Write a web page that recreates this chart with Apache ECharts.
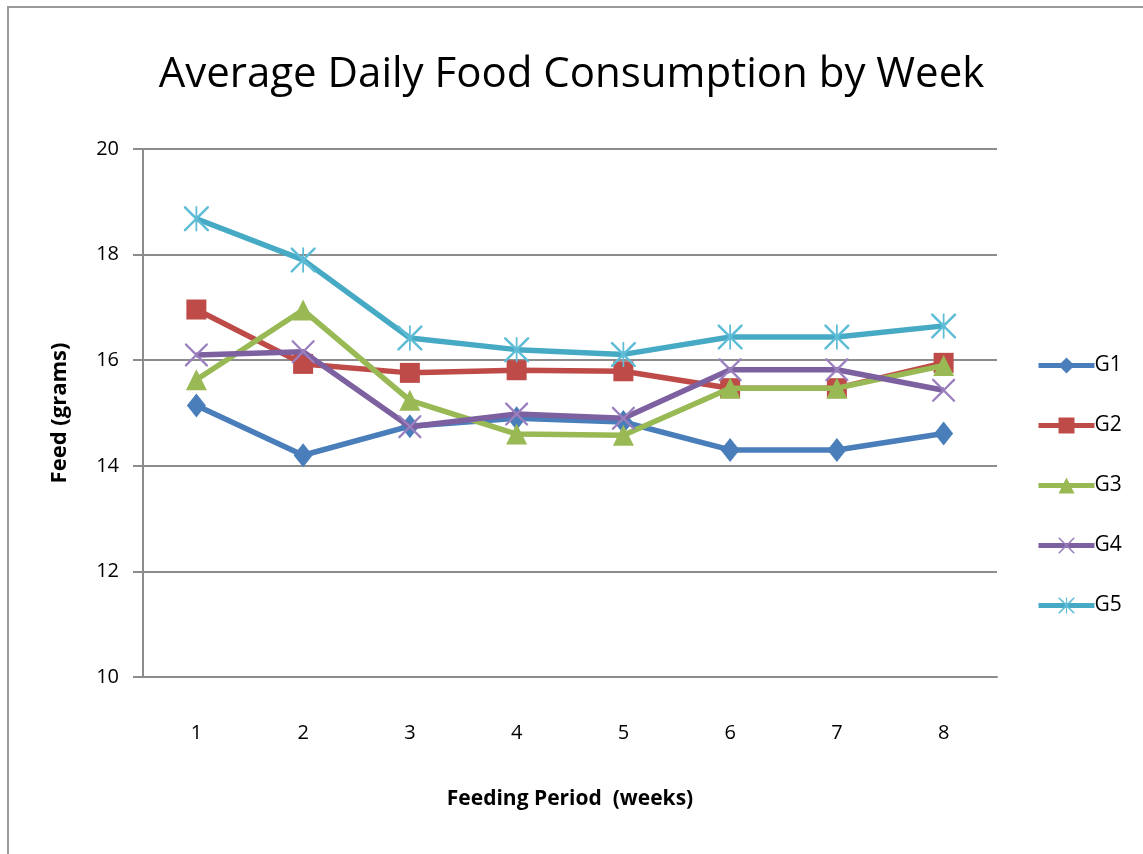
<!DOCTYPE html>
<html>
<head>
<meta charset="utf-8">
<title>Average Daily Food Consumption by Week</title>
<script src="https://cdn.jsdelivr.net/npm/echarts@6/dist/echarts.min.js"></script>
<style>
  html, body { margin: 0; padding: 0; background: #fff; }
  #chart { width: 1143px; height: 854px; }
</style>
</head>
<body>
<div id="chart"></div>
<script>
// 数据
const weeks = ["1", "2", "3", "4", "5", "6", "7", "8"];
const yTicks = [10, 12, 14, 16, 18, 20];
const groupNames = ["G1", "G2", "G3", "G4", "G5"];
const g1 = [15.14, 14.2, 14.75, 14.9, 14.83, 14.3, 14.3, 14.61];
const g2 = [16.96, 15.93, 15.76, 15.81, 15.79, 15.47, 15.47, 15.95];
const g3 = [15.63, 16.95, 15.24, 14.6, 14.58, 15.47, 15.47, 15.9];
const g4 = [16.1, 16.16, 14.74, 14.98, 14.9, 15.82, 15.82, 15.43];
const g5 = [18.68, 17.9, 16.42, 16.2, 16.11, 16.44, 16.44, 16.65];

const colors = ["#4a7ebb", "#be4b48", "#98b954", "#7d60a0", "#46aac5"];
const markColors = ["#4a7ebb", "#be4b48", "#98b954", "#9a7fbf", "#5ebcd6"];

// 细线 X / 星号 标记
const xPath = "path://M0,0L1.4,0L10,8.6L18.6,0L20,0L20,1.4L11.4,10L20,18.6L20,20L18.6,20L10,11.4L1.4,20L0,20L0,18.6L8.6,10L0,1.4Z";
const starPath = "path://M0,0L1.4,0L9.3,7.9L9.3,0L10.7,0L10.7,7.9L18.6,0L20,0L20,1.4L11.4,10L20,18.6L20,20L18.6,20L10.7,12.1L10.7,20L9.3,20L9.3,12.1L1.4,20L0,20L0,18.6L8.6,10L0,1.4Z";

const symbols = ["diamond", "rect", "triangle", xPath, starPath];
const symbolSizes = [[19, 24], 20, 21, 23, 25];
const groups = [g1, g2, g3, g4, g5];

const font = "Open Sans, Noto Sans, sans-serif";

const series = groups.map((data, i) => ({
  name: groupNames[i],
  type: "line",
  data: data,
  symbol: symbols[i],
  symbolSize: symbolSizes[i],
  showAllSymbol: true,
  lineStyle: { color: colors[i], width: 5.5 },
  itemStyle: { color: markColors[i], borderWidth: 0 },
  emphasis: { disabled: true },
  z: 2 + i,
}));

const options = {
  animation: false,
  backgroundColor: "#fff",
  title: {
    text: "Average Daily Food Consumption by Week",
    left: "center",
    top: 49,
    textStyle: { fontFamily: font, fontSize: 42, fontWeight: "normal", color: "#000" },
  },
  graphic: [
    {
      type: "rect",
      shape: { x: 8, y: 7, width: 1300, height: 1000 },
      style: { fill: "none", stroke: "#999", lineWidth: 2 },
      silent: true,
      z: -10,
    },
  ],
  grid: { left: 143, right: 146, top: 149, bottom: 177, containLabel: false },
  legend: {
    orient: "vertical",
    left: 1031,
    top: 350,
    itemWidth: 56,
    itemHeight: 20,
    itemGap: 39,
    data: groupNames,
    lineStyle: { width: 5 },
    textStyle: { fontFamily: font, fontSize: 21, color: "#000", padding: [0, 0, 0, -5] },
  },
  xAxis: {
    type: "category",
    data: weeks,
    boundaryGap: true,
    name: "Feeding Period  (weeks)",
    nameLocation: "middle",
    nameGap: 112,
    nameTextStyle: { fontFamily: font, fontSize: 21, fontWeight: "bold", color: "#000" },
    axisLine: { lineStyle: { color: "#8c8c8c", width: 2 } },
    axisTick: { show: false },
    axisLabel: { fontFamily: font, fontSize: 20, color: "#000", margin: 46 },
  },
  yAxis: {
    type: "value",
    min: yTicks[0],
    max: yTicks[yTicks.length - 1],
    interval: 2,
    name: "Feed (grams)",
    nameLocation: "middle",
    nameGap: 72,
    nameTextStyle: { fontFamily: font, fontSize: 22, fontWeight: "bold", color: "#000" },
    axisLine: { show: true, lineStyle: { color: "#8c8c8c", width: 2 } },
    axisTick: { show: true, length: 10, lineStyle: { color: "#8c8c8c", width: 2 } },
    axisLabel: { fontFamily: font, fontSize: 20, color: "#000", margin: 24 },
    splitLine: { show: true, lineStyle: { color: "#8c8c8c", width: 2 } },
  },
  series: series,
};

const chart = echarts.init(document.getElementById("chart"), null, { renderer: "canvas" });
chart.setOption(options);

window.addEventListener("resize", () => {
  chart.resize();
});
</script>
</body>
</html>
